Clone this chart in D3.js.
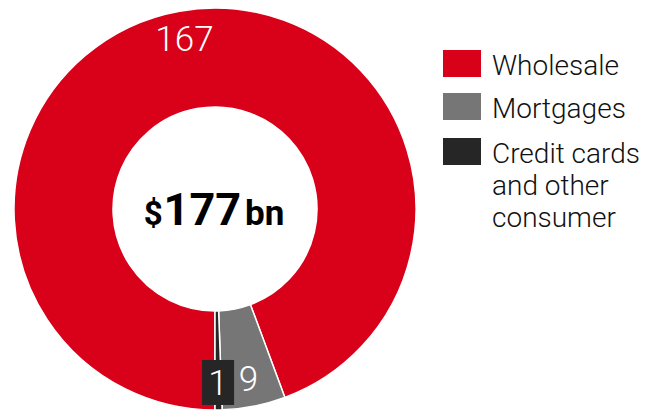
<!DOCTYPE html>
<html>
<head>
<meta charset="utf-8">
<script src="https://cdn.jsdelivr.net/npm/d3@7"></script>
<style>
  html, body { margin: 0; padding: 0; background: #fff; }
  svg { display: block; }
  text { font-family: Roboto, "Liberation Sans", sans-serif; }
</style>
</head>
<body>
<svg id="chart" width="646" height="411"></svg>
<script>
const categories = ["Wholesale", "Mortgages", "Credit cards and other consumer"];
const legendLines = [["Wholesale"], ["Mortgages"], ["Credit cards", "and other", "consumer"]];
const values = [167, 9, 1];
const colors = ["#d9001a", "#767676", "#262626"];
const totalLabel = { prefix: "$", number: "177", suffix: "bn" };

const svg = d3.select("#chart");
const cx = 215, cy = 209, outerR = 201, innerR = 102, labelR = 173;

const pie = d3.pie().sort(null).value(d => d)
  .startAngle(Math.PI).endAngle(3 * Math.PI);
const arcs = pie(values);
const arc = d3.arc().innerRadius(innerR).outerRadius(outerR);
const labelArc = d3.arc().innerRadius(labelR).outerRadius(labelR);

const g = svg.append("g").attr("transform", `translate(${cx},${cy})`);

g.selectAll("path.slice").data(arcs).enter().append("path")
  .attr("class", "slice")
  .attr("d", arc)
  .attr("fill", (d, i) => colors[i])
  .attr("stroke", "#fff")
  .attr("stroke-width", 1.5)
  .attr("stroke-linejoin", "round");

// Labels
arcs.forEach((d, i) => {
  const [x, y] = labelArc.centroid(d);
  const lg = g.append("g").attr("transform", `translate(${x},${y})`);
  const t = lg.append("text")
    .attr("text-anchor", "middle")
    .attr("dy", "0.36em")
    .attr("font-size", 35)
    .attr("font-weight", 300)
    .attr("fill", "#fff")
    .text(values[i]);
  if (i === 2) {
    lg.insert("rect", "text")
      .attr("x", -16).attr("y", -22)
      .attr("width", 32).attr("height", 45)
      .attr("fill", colors[i]);
  }
});

// Center total
const ct = g.append("text")
  .attr("text-anchor", "middle")
  .attr("x", -1)
  .attr("y", 16)
  .attr("font-weight", 700)
  .attr("fill", "#000");
ct.append("tspan").attr("font-size", 33).text(totalLabel.prefix);
ct.append("tspan").attr("font-size", 45).attr("dx", 1).text(totalLabel.number);
ct.append("tspan").attr("font-size", 35).attr("dx", 4).text(totalLabel.suffix);

// Legend
const legendY = d3.scaleOrdinal().domain(categories).range([50, 93, 138]);
const lgd = svg.append("g");
categories.forEach((c, i) => {
  const y0 = legendY(c);
  lgd.append("rect")
    .attr("x", 443).attr("y", y0)
    .attr("width", 38).attr("height", 27)
    .attr("fill", colors[i]);
  const t = lgd.append("text")
    .attr("x", 492).attr("y", y0 + 25)
    .attr("font-size", 28)
    .attr("font-weight", 300)
    .attr("fill", "#111");
  legendLines[i].forEach((line, j) => {
    t.append("tspan").attr("x", 492).attr("dy", j === 0 ? 0 : 32).text(line);
  });
});
</script>
</body>
</html>
